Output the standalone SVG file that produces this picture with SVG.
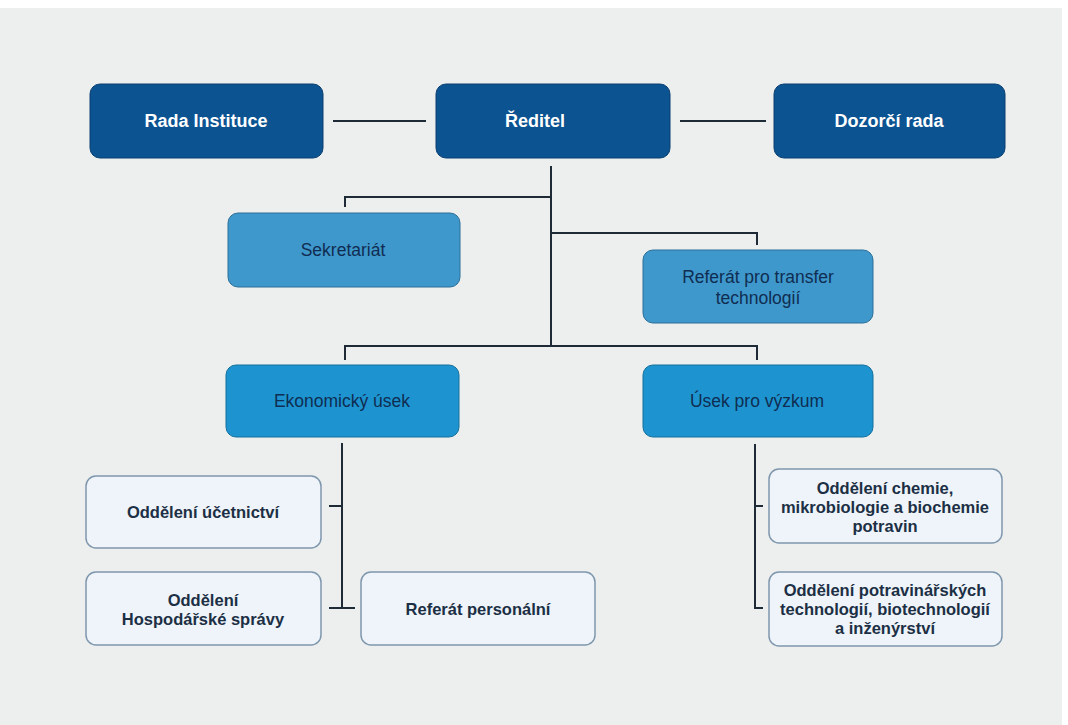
<svg xmlns="http://www.w3.org/2000/svg" width="1068" height="725" viewBox="0 0 1068 725">
<style>
.bg{fill:#edefee}
.top rect{fill:#0c5391;stroke:#0a3f70;stroke-width:1}
.mid rect{fill:#3f98cb;stroke:#2a6f99;stroke-width:1}
.sec rect{fill:#1d94cf;stroke:#15709d;stroke-width:1}
.leaf rect{fill:#eef4fa;stroke:#7f97ad;stroke-width:1.5}
text{font-family:"Liberation Sans",Arial,sans-serif;text-anchor:middle;dominant-baseline:central}
.top text{fill:#ffffff;font-size:18px;font-weight:bold}
.mid text,.sec text{fill:#0f2d52;font-size:17.5px}
.leaf text{fill:#1c2f44;font-size:16.5px;font-weight:bold}
#connectors path{fill:none;stroke:#1e2a36;stroke-width:2}
</style>
<rect x="0" y="0" width="1068" height="725" fill="#ffffff"/>
<rect class="bg" x="0" y="8" width="1062" height="717"/>
<g id="connectors">
<path d="M333 121H426"/>
<path d="M680 121H766"/>
<path d="M551 166V346"/>
<path d="M551 197H345V207"/>
<path d="M551 233H757V245"/>
<path d="M345 360V346H757V360"/>
<path d="M342 443V608"/>
<path d="M329 506H342"/>
<path d="M329 608H355"/>
<path d="M755 444V608H763"/>
<path d="M755 506H763"/>
</g>
<g id="rada" class="top"><rect x="90" y="84" width="233" height="74" rx="10"/><text x="206" y="121">Rada Instituce</text></g>
<g id="reditel" class="top"><rect x="436" y="84" width="234" height="74" rx="10"/><text x="535" y="121">Ředitel</text></g>
<g id="dozorci" class="top"><rect x="774" y="84" width="231" height="74" rx="10"/><text x="889" y="121">Dozorčí rada</text></g>
<g id="sekretariat" class="mid"><rect x="228" y="213" width="232" height="74" rx="10"/><text x="343" y="250">Sekretariát</text></g>
<g id="referat-transfer" class="mid"><rect x="643" y="250" width="230" height="73" rx="10"/><text x="758" y="277">Referát pro transfer</text><text x="758" y="298">technologií</text></g>
<g id="ekonomicky" class="sec"><rect x="226" y="365" width="233" height="72" rx="10"/><text x="342" y="401">Ekonomický úsek</text></g>
<g id="vyzkum" class="sec"><rect x="643" y="365" width="230" height="72" rx="10"/><text x="757" y="401">Úsek pro výzkum</text></g>
<g id="ucetnictvi" class="leaf"><rect x="86" y="476" width="235" height="72" rx="10"/><text x="203" y="512">Oddělení účetnictví</text></g>
<g id="hospodarske" class="leaf"><rect x="86" y="572" width="235" height="73" rx="10"/><text x="203" y="600">Oddělení</text><text x="203" y="619">Hospodářské správy</text></g>
<g id="personalni" class="leaf"><rect x="361" y="572" width="234" height="73" rx="10"/><text x="478" y="609">Referát personální</text></g>
<g id="chemie" class="leaf"><rect x="769" y="469" width="233" height="74" rx="10"/><text x="885" y="488">Oddělení chemie,</text><text x="885" y="507">mikrobiologie a biochemie</text><text x="885" y="526">potravin</text></g>
<g id="potravinarske" class="leaf"><rect x="769" y="572" width="233" height="74" rx="10"/><text x="885" y="590">Oddělení potravinářských</text><text x="885" y="609">technologií, biotechnologií</text><text x="885" y="628">a inženýrství</text></g>
</svg>
